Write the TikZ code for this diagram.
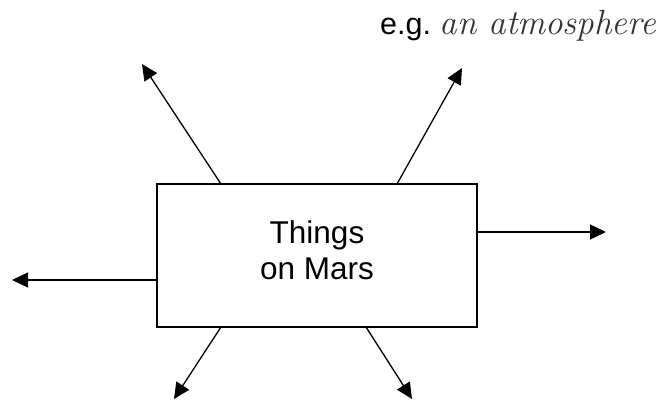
\documentclass[tikz,border=0pt]{standalone}
\usepackage{fontspec}
\setmainfont{Liberation Sans}
\newfontfamily\handfont{Latin Modern Roman}
\usetikzlibrary{arrows.meta}
\definecolor{handgray}{gray}{0.2}
\tikzset{
  mainbox/.style={draw=black, line width=1.3pt, minimum width=320pt, minimum height=143pt, inner sep=0pt},
  conn/.style={line width=1.3pt, -{Triangle[length=16pt,width=15pt]}},
  boxtext/.style={align=center, font=\fontsize{31.5}{36}\selectfont},
}
\begin{document}
\begin{tikzpicture}[x=1pt,y=-1pt]
\useasboundingbox (0,0) rectangle (667,401);
\node[mainbox] (box) at (317,255.5) {};
\node[boxtext] (lbl) at (317,250) {Things\\on Mars};
\node[anchor=base west, inner sep=0pt] (eg) at (380,35) {\fontsize{30.5}{36}\selectfont e.g.\ {\handfont\itshape\color{handgray}\fontsize{35}{36}\selectfont an atmosphere}};
\coordinate (s1) at (221,184); \coordinate (t1) at (142,64);
\coordinate (s2) at (397,184); \coordinate (t2) at (462,68);
\coordinate (s3) at (477,232); \coordinate (t3) at (606,232);
\coordinate (s4) at (157,280); \coordinate (t4) at (12,280);
\coordinate (s5) at (221,327); \coordinate (t5) at (174,399);
\coordinate (s6) at (366,327); \coordinate (t6) at (412,399);
\draw[conn] (s1) -- (t1);
\draw[conn] (s2) -- (t2);
\draw[conn] (s3) -- (t3);
\draw[conn] (s4) -- (t4);
\draw[conn] (s5) -- (t5);
\draw[conn] (s6) -- (t6);
\end{tikzpicture}
\end{document}
